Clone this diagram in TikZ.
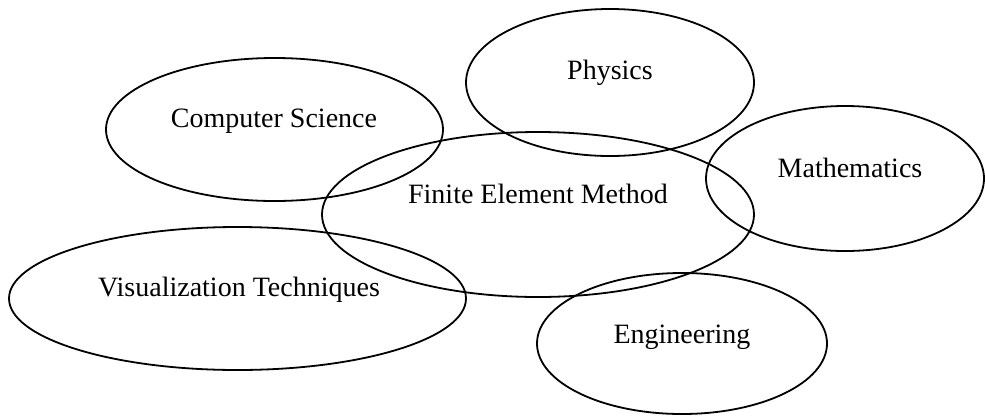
\documentclass[tikz,border=0pt]{standalone}
\usepackage{fontspec}
\setmainfont{Liberation Serif}
\usetikzlibrary{shapes.geometric}
\tikzset{
  field/.style={draw=black, line width=1.8pt, ellipse, inner sep=0pt},
  fieldtext/.style={font=\fontsize{28}{34}\selectfont, anchor=base, inner sep=0pt}
}
\begin{document}
\begin{tikzpicture}[x=1pt,y=-1pt]
\useasboundingbox (0,0) rectangle (985,416);
% ellipses (center, width = 2rx, height = 2ry)
\node[field, minimum width=337pt, minimum height=143pt] (cs)   at (274.5,129.5) {};
\node[field, minimum width=288pt, minimum height=147pt] (phys) at (610,82.5) {};
\node[field, minimum width=278pt, minimum height=145pt] (math) at (845,178.5) {};
\node[field, minimum width=432pt, minimum height=165pt] (fem)  at (538,214.5) {};
\node[field, minimum width=457pt, minimum height=143pt] (vis)  at (237.5,298.5) {};
\node[field, minimum width=290pt, minimum height=141pt] (eng)  at (682,343.5) {};
% labels
\node[fieldtext] (cst)   at (274,127) {Computer Science};
\node[fieldtext] (physt) at (610,79) {Physics};
\node[fieldtext] (matht) at (850,177) {Mathematics};
\node[fieldtext] (femt)  at (538,203) {Finite Element Method};
\node[fieldtext] (vist)  at (239,296) {Visualization Techniques};
\node[fieldtext] (engt)  at (682,343) {Engineering};
\end{tikzpicture}
\end{document}
